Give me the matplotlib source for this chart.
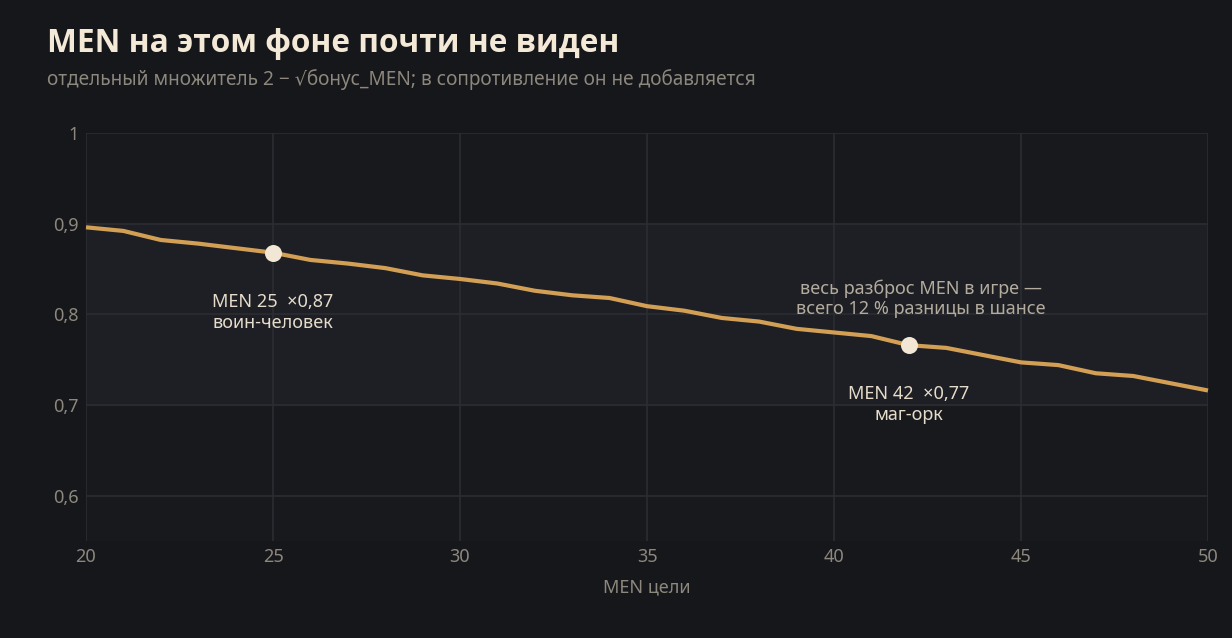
import matplotlib
matplotlib.use("Agg")
import matplotlib.pyplot as plt
from matplotlib.ticker import FuncFormatter

# MEN of the target and resulting multiplier
men = [20, 21, 22, 23, 24, 25, 26, 27, 28, 29, 30, 31, 32, 33, 34, 35,
       36, 37, 38, 39, 40, 41, 42, 43, 44, 45, 46, 47, 48, 49, 50]
mult = [0.896, 0.892, 0.882, 0.878, 0.873, 0.868, 0.860, 0.856, 0.851, 0.843,
        0.839, 0.834, 0.826, 0.821, 0.818, 0.809, 0.804, 0.796, 0.792, 0.784,
        0.780, 0.776, 0.766, 0.763, 0.755, 0.747, 0.744, 0.735, 0.732, 0.724,
        0.716]

marked_men = [25, 42]
marked_mult = [0.868, 0.766]
marked_text = ["MEN 25  ×0,87\nвоин-человек", "MEN 42  ×0,77\nмаг-орк"]

BG = "#16171b"
PLOT_BG = "#18191d"
BAND = "#1e1f24"
GRID = "#2c2d32"
LINE = "#d29f55"
DOT = "#f1e7d4"
TITLE = "#f3e9d6"
MUTED = "#8d887d"

plt.rcParams['font.family'] = ['Noto Sans', 'DejaVu Sans']

fig = plt.figure(figsize=(12.32, 6.38), dpi=100, facecolor=BG)
ax = fig.add_axes([86 / 1232, 1 - 541 / 638, (1208 - 86) / 1232, (541 - 133) / 638])
ax.set_facecolor(PLOT_BG)

ax.set_xlim(20, 50)
ax.set_ylim(0.55, 1.0)
ax.axhspan(0.7, 0.9, color=BAND, zorder=0)

ax.set_xticks([20, 25, 30, 35, 40, 45, 50])
ax.set_yticks([0.6, 0.7, 0.8, 0.9, 1.0])
ax.yaxis.set_major_formatter(FuncFormatter(
    lambda v, p: "1" if abs(v - 1) < 1e-9 else f"{v:.1f}".replace(".", ",")))
ax.grid(True, color=GRID, linewidth=1.2, zorder=1)
ax.set_axisbelow(True)
for s in ax.spines.values():
    s.set_visible(False)
ax.tick_params(length=0, labelsize=13, colors=MUTED, pad=5)
ax.tick_params(axis='y', pad=5)

ax.plot(men, mult, color=LINE, linewidth=3, solid_joinstyle='round',
        solid_capstyle='butt', zorder=3, clip_on=False)
ax.scatter(marked_men, marked_mult, s=150, color=DOT, zorder=4, linewidths=0)

ax.text(marked_men[0], 0.802, marked_text[0], ha='center', va='center',
        fontsize=13, color="#e6dccb", linespacing=1.2)
ax.text(marked_men[1], 0.7005, marked_text[1], ha='center', va='center',
        fontsize=13, color="#e6dccb", linespacing=1.2)
ax.text(42.33, 0.8176, "весь разброс MEN в игре —\nвсего 12 % разницы в шансе",
        ha='center', va='center', fontsize=13, color="#b3ac9e", linespacing=1.15)

ax.set_xlabel("MEN цели", fontsize=13, color=MUTED, labelpad=9)

fig.text(47 / 1232, 1 - 43 / 638, "MEN на этом фоне почти не виден",
         fontsize=22.8, fontweight='bold', color=TITLE, va='center',
         family=['Open Sans', 'DejaVu Sans'])
fig.text(47 / 1232, 1 - 80 / 638,
         "отдельный множитель 2 − √бонус_MEN; в сопротивление он не добавляется",
         fontsize=13.7, color=MUTED, va='center')

fig.savefig("out.png", dpi=100, facecolor=BG)
